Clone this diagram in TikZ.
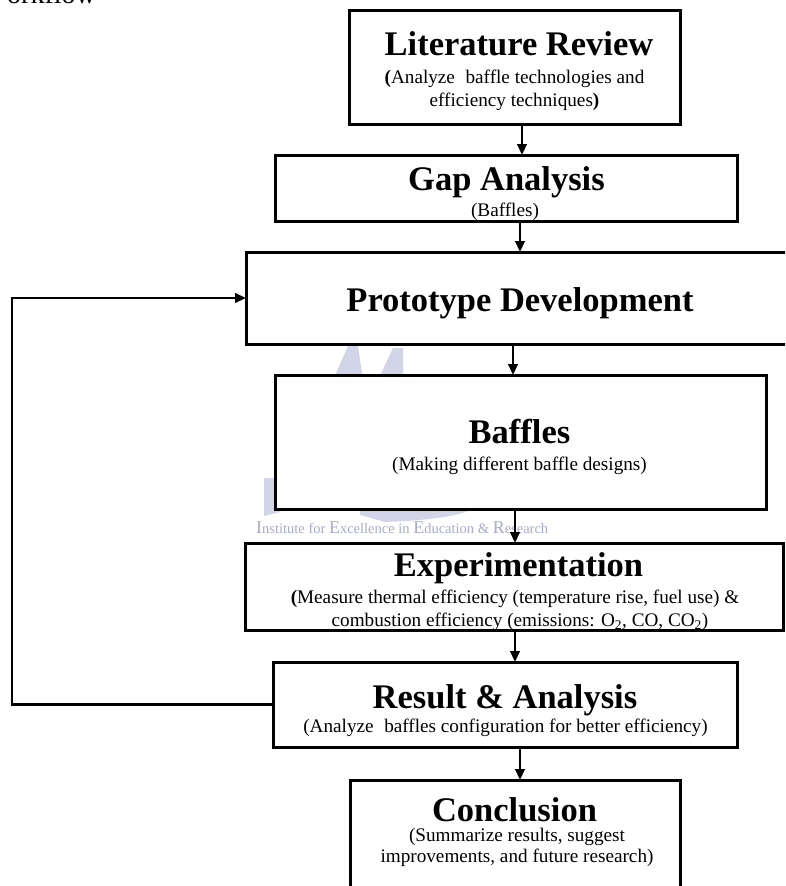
\documentclass[tikz,border=0pt]{standalone}
\usepackage{fontspec}
\setmainfont{Liberation Serif}
\usetikzlibrary{arrows.meta}
\definecolor{wmtext}{RGB}{168,172,202}
\definecolor{wmlogo}{RGB}{210,213,231}
\newcommand{\subtwo}{\textsubscript{2}}
\newcommand{\wmcap}[1]{{\fontsize{18}{20}\selectfont #1}}
\begin{document}
\begin{tikzpicture}[x=1pt,y=-1pt,
  box/.style={draw=black, line width=3pt, fill=white, inner sep=0pt, outer sep=0pt},
  ttl/.style={font=\fontsize{34.5}{36}\selectfont\bfseries, inner sep=0pt, anchor=base},
  sub/.style={font=\fontsize{19.2}{21}\selectfont, inner sep=0pt, anchor=base},
  arr/.style={line width=2.4pt, -{Triangle[length=11pt,width=9.5pt]}},
  wm/.style={font=\fontsize{14.5}{16}\selectfont, text=wmtext, inner sep=0pt, anchor=base west}]
\useasboundingbox (0,0) rectangle (785,886);
\fill[white] (0,0) rectangle (785,886);
\clip (0,0) rectangle (785,886);

% cut-off heading fragment
\node[font=\fontsize{28}{30}\selectfont, inner sep=0pt, anchor=base west] (head) at (7,3) {orkflow};

% faint watermark logo
\fill[wmlogo] (333,380) -- (348,346) -- (358,346) -- (363,380) -- cycle;
\fill[wmlogo] (378,380) -- (393,348) -- (403,348) -- (403,380) -- cycle;
\fill[wmlogo] (264,478) -- (280,478) -- (280,512) -- (264,516) -- cycle;
\fill[wmlogo] (360,505) -- (478,505) .. controls (470,514) and (440,520) .. (385,522) -- (360,515) -- cycle;

% watermark text
\node[wm] (wmark) at (256,533) {\wmcap{I}nstitute for \wmcap{E}xcellence in \wmcap{E}ducation \& \wmcap{R}esearch};

% boxes
\node[box, minimum width=331pt, minimum height=114pt] (b1) at (514.5,67) {};
\node[box, minimum width=462pt, minimum height=66pt] (b2) at (506,188) {};
\node[box, minimum width=564pt, minimum height=92pt] (b3) at (528,298) {};
\node[box, minimum width=491pt, minimum height=134pt] (b4) at (520.5,442) {};
\node[box, minimum width=538pt, minimum height=87pt] (b5) at (514.5,586.5) {};
\node[box, minimum width=464pt, minimum height=85pt] (b6) at (505,704.5) {};
\node[box, minimum width=330pt, minimum height=130pt] (b7) at (515,845) {};

% texts
\node[ttl] (t1) at (519,55) {Literature Review};
\node[sub] (s1a) at (514.5,83) {\textbf{(}Analyze\hspace{0.3em} baffle technologies and};
\node[sub] (s1b) at (514.5,106) {efficiency techniques\textbf{)}};

\node[ttl] (t2) at (506.5,190) {Gap Analysis};
\node[sub] (s2) at (505,216.5) {(Baffles)};

\node[ttl] (t3) at (520,311) {Prototype Development};

\node[ttl] (t4) at (519.5,443) {Baffles};
\node[sub] (s4) at (519.5,470) {(Making different baffle designs)};

\node[ttl] (t5) at (518.5,576) {Experimentation};
\node[sub] (s5a) at (515,603) {\textbf{(}Measure thermal efficiency (temperature rise, fuel use) \&};
\node[sub] (s5b) at (520,626) {combustion efficiency (emissions: O\subtwo, CO, CO\subtwo)};

\node[ttl] (t6) at (505,708) {Result \& Analysis};
\node[sub] (s6) at (505.5,732) {(Analyze\hspace{0.3em} baffles configuration for better efficiency)};

\node[ttl] (t7) at (514.5,821) {Conclusion};
\node[sub] (s7a) at (517,841) {(Summarize results, suggest};
\node[sub] (s7b) at (517,862.5) {improvements, and future research)};

% connector x positions
\coordinate (a1) at (522,0);
\coordinate (a2) at (520,0);
\coordinate (a3) at (513,0);
\coordinate (a4) at (515,0);
\coordinate (a5) at (515,0);
\coordinate (a6) at (520,0);
\coordinate (fb) at (12,0);

\draw[arr] (b1.south -| a1) -- (b2.north -| a1);
\draw[arr] (b2.south -| a2) -- (b3.north -| a2);
\draw[arr] (b3.south -| a3) -- (b4.north -| a3);
\draw[arr] (b4.south -| a4) -- (b5.north -| a4);
\draw[arr] (b5.south -| a5) -- (b6.north -| a5);
\draw[arr] (b6.south -| a6) -- (b7.north -| a6);
\draw[arr] (b6.west) -- (b6.west -| fb) |- (b3.west);
\end{tikzpicture}
\end{document}
